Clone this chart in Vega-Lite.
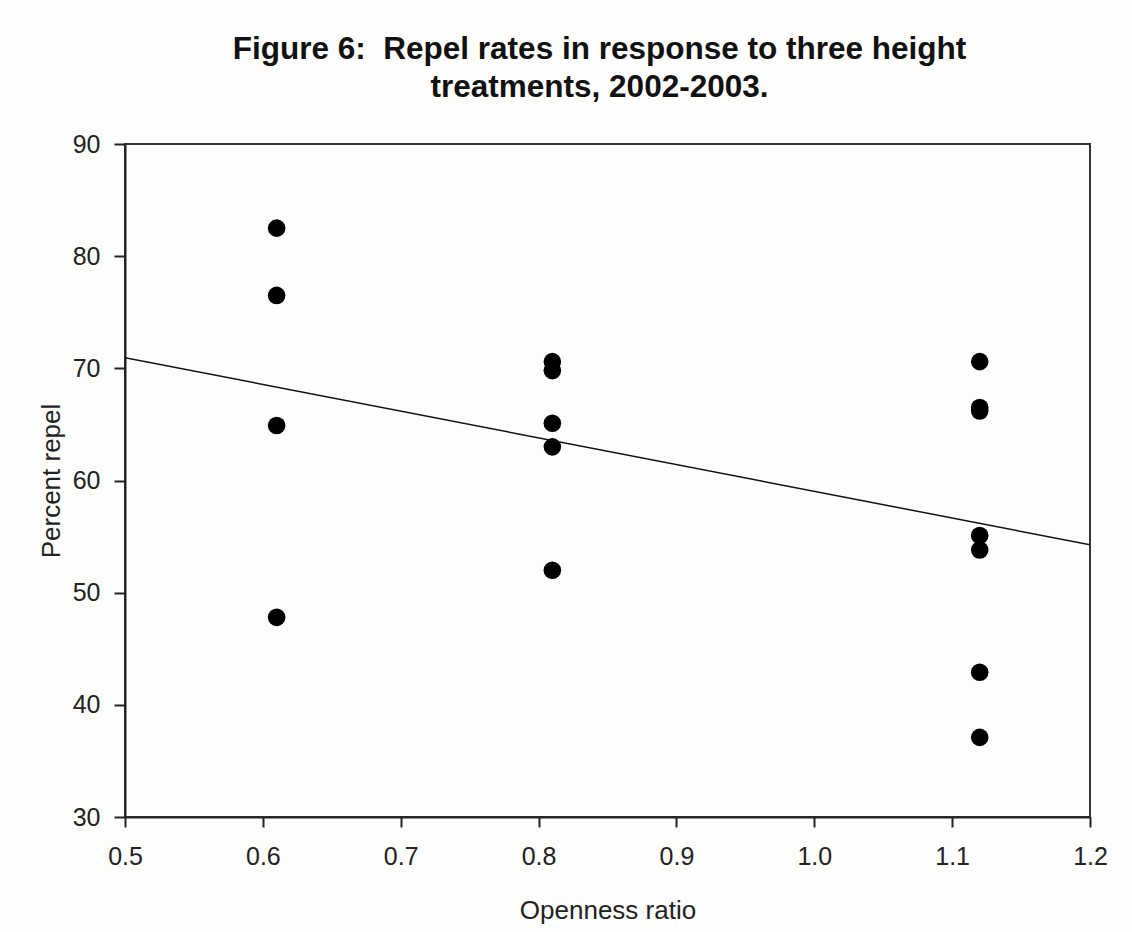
{
  "$schema": "https://vega.github.io/schema/vega-lite/v6.json",
  "autosize": "none",
  "width": 965,
  "height": 673,
  "padding": {"left": 125, "top": 144, "right": 42, "bottom": 115},
  "background": "#fdfdfb",
  "title": {
    "text": ["Figure 6:\u00a0 Repel rates in response to three height", "treatments, 2002-2003."],
    "font": "Liberation Sans",
    "fontSize": 31.5,
    "fontWeight": "bold",
    "lineHeight": 38,
    "color": "#111",
    "anchor": "middle",
    "frame": "group",
    "dx": -8,
    "offset": 29
  },
  "data": {
    "values": [
      {"ratio": 0.61, "repel": 82.5},
      {"ratio": 0.61, "repel": 76.5},
      {"ratio": 0.61, "repel": 64.9},
      {"ratio": 0.61, "repel": 47.8},
      {"ratio": 0.81, "repel": 70.6},
      {"ratio": 0.81, "repel": 69.8},
      {"ratio": 0.81, "repel": 65.1},
      {"ratio": 0.81, "repel": 63.0},
      {"ratio": 0.81, "repel": 52.0},
      {"ratio": 1.12, "repel": 70.6},
      {"ratio": 1.12, "repel": 66.5},
      {"ratio": 1.12, "repel": 66.2},
      {"ratio": 1.12, "repel": 55.1},
      {"ratio": 1.12, "repel": 53.8},
      {"ratio": 1.12, "repel": 42.9},
      {"ratio": 1.12, "repel": 37.1}
    ]
  },
  "encoding": {
    "x": {
      "field": "ratio",
      "type": "quantitative",
      "title": "Openness ratio",
      "scale": {"domain": [0.5, 1.2], "nice": false, "zero": false},
      "axis": {
        "values": [0.5, 0.6, 0.7, 0.8, 0.9, 1.0, 1.1, 1.2],
        "format": ".1f",
        "grid": false,
        "labelFlush": false,
        "tickSize": 10,
        "labelPadding": 17,
        "titlePadding": 28
      }
    },
    "y": {
      "field": "repel",
      "type": "quantitative",
      "title": "Percent repel",
      "scale": {"domain": [30, 90], "nice": false, "zero": false},
      "axis": {
        "values": [30, 40, 50, 60, 70, 80, 90],
        "grid": false,
        "labelFlush": false,
        "tickSize": 11,
        "labelPadding": 14,
        "titlePadding": 8
      }
    }
  },
  "layer": [
    {
      "mark": {"type": "point", "filled": true, "shape": "circle", "size": 310, "color": "#000", "opacity": 1}
    },
    {
      "transform": [{"regression": "repel", "on": "ratio", "extent": [0.5, 1.2]}],
      "mark": {"type": "line", "color": "#111", "strokeWidth": 1.5, "clip": true}
    }
  ],
  "config": {
    "view": {"stroke": "#333", "strokeWidth": 2},
    "axis": {
      "domainColor": "#222",
      "domainWidth": 2,
      "tickColor": "#222",
      "tickWidth": 2,
      "labelFont": "Liberation Sans",
      "labelFontSize": 25,
      "labelColor": "#222",
      "titleFont": "Liberation Sans",
      "titleFontSize": 26,
      "titleFontWeight": "normal",
      "titleColor": "#222"
    }
  }
}
